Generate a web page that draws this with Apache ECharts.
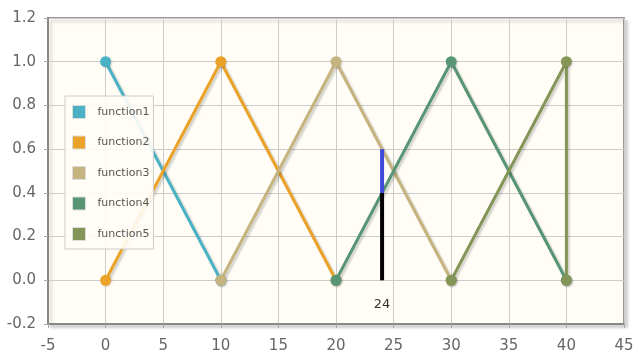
<!DOCTYPE html>
<html><head><meta charset="utf-8">
<script src="https://cdn.jsdelivr.net/npm/echarts@6/dist/echarts.min.js"></script>
<style>html,body{margin:0;padding:0;background:#fff}#c{width:642px;height:362px}</style>
</head><body><div id="c"></div>
<script>
const seriesNames = ['function1','function2','function3','function4','function5'];
const seriesColors = ['#4bb2c5','#eaa228','#c5b47f','#579575','#839557'];
const function1 = [[0,1],[10,0]];
const function2 = [[0,0],[10,1],[20,0]];
const function3 = [[10,0],[20,1],[30,0]];
const function4 = [[20,0],[30,1],[40,0]];
const function5 = [[30,0],[40,1],[40,0]];
const markerX = 24;
const markerLow = [0, 0.4];
const markerHigh = [0.4, 0.6];
const markerLabelY = -0.11;
const markerLabel = '24';

const data = [function1,function2,function3,function4,function5];
const chart = echarts.init(document.getElementById('c'), null, {renderer:'canvas'});
const series = data.map((d,i)=>({
  name: seriesNames[i], type:'line', data:d, color: seriesColors[i],
  symbol:'circle', symbolSize:11, animation:false,
  lineStyle:{width:3, color:seriesColors[i], shadowColor:'rgba(0,0,0,0.18)', shadowOffsetX:2, shadowOffsetY:2, shadowBlur:2},
  itemStyle:{color:seriesColors[i], shadowColor:'rgba(0,0,0,0.15)', shadowOffsetX:1, shadowOffsetY:1, shadowBlur:2},
  z: 2+i
}));
series.push({type:'line', data:[[markerX,markerLow[0]],[markerX,markerLow[1]]], symbol:'none', lineStyle:{width:4,color:'#000'}, z:20, animation:false, silent:true});
series.push({type:'line', data:[[markerX,markerHigh[0]],[markerX,markerHigh[1]]], symbol:'none', lineStyle:{width:4,color:'#3f48d8'}, z:20, animation:false, silent:true});
series.push({type:'scatter', data:[[markerX,markerLabelY]], symbolSize:0, z:20, animation:false, silent:true,
  label:{show:true, position:'inside', formatter:markerLabel, color:'#000', fontSize:13, fontFamily:'DejaVu Sans'}});

chart.setOption({
  animation:false,
  backgroundColor:'#ffffff',
  grid:{left:48, right:18, top:18, bottom:38, show:true, backgroundColor:'#fffdf6', borderColor:'#999', borderWidth:2,
    shadowColor:'rgba(0,0,0,0.15)', shadowOffsetX:3, shadowOffsetY:3, shadowBlur:3},
  legend:{
    data:seriesNames, orient:'vertical', left:65, top:96, icon:'rect', itemWidth:13, itemHeight:13, itemGap:16.5,
    padding:[9,4,8,7], borderColor:'#cccccc', borderWidth:1, backgroundColor:'rgba(255,253,246,0.9)',
    textStyle:{color:'#555', fontSize:11, fontFamily:'DejaVu Sans', padding:[0,0,0,7]},
    itemStyle:{borderColor:'#dddddd', borderWidth:1}
  },
  xAxis:{type:'value', min:-5, max:45, interval:5,
    axisLine:{show:true, onZero:false, lineStyle:{color:'#888', width:2}},
    axisTick:{show:true, length:4, lineStyle:{color:'#aaa'}},
    axisLabel:{color:'#666', fontSize:15, fontFamily:'DejaVu Sans', margin:15},
    splitLine:{show:true, lineStyle:{color:'#cccccc', width:1}}},
  yAxis:{type:'value', min:-0.2, max:1.2, interval:0.2,
    axisLine:{show:true, onZero:false, lineStyle:{color:'#888', width:2}},
    axisTick:{show:true, length:4, lineStyle:{color:'#aaa'}},
    axisLabel:{color:'#666', fontSize:15, fontFamily:'DejaVu Sans', margin:12, formatter:v=>v.toFixed(1)},
    splitLine:{show:true, lineStyle:{color:'#cccccc', width:1}}},
  series:series
});
</script></body></html>
